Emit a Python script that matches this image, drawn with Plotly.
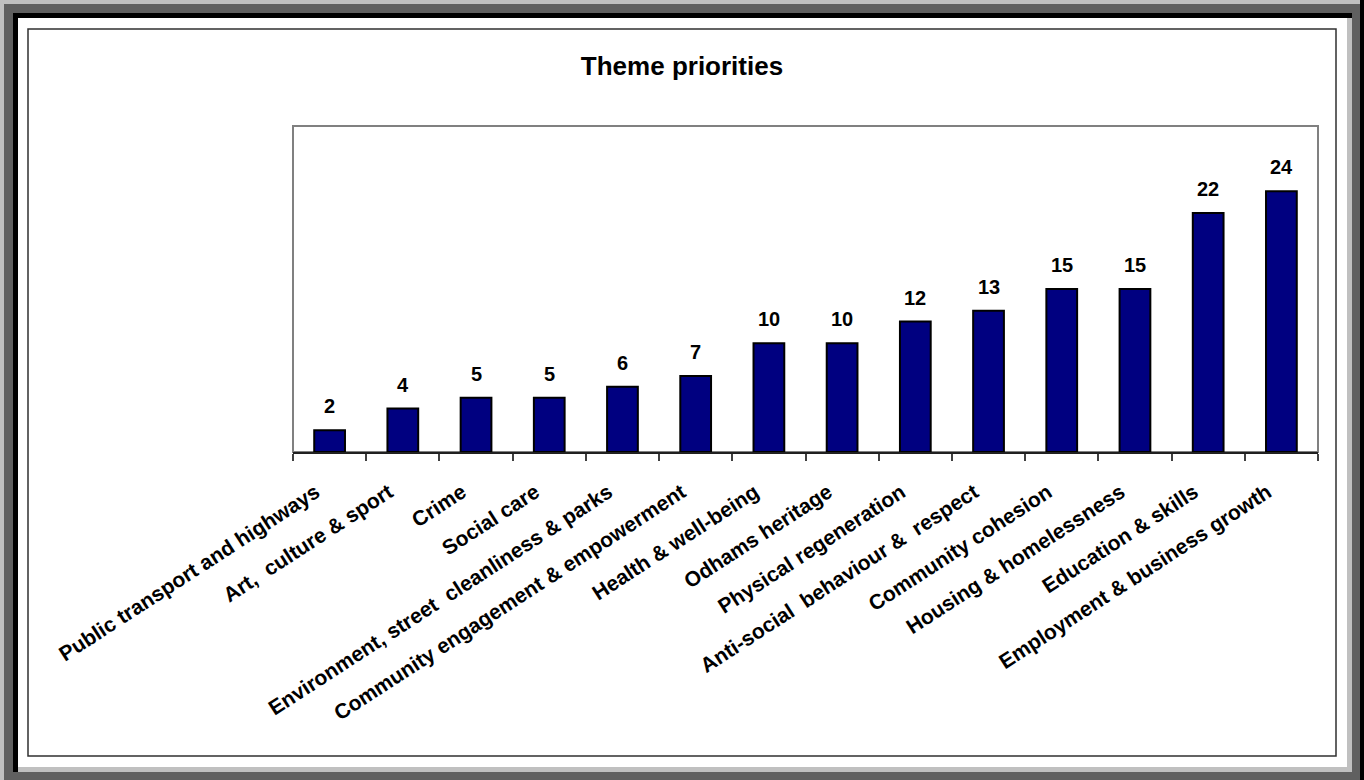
import plotly.graph_objects as go

categories = [
    "Public transport and highways",
    "Art,  culture & sport",
    "Crime",
    "Social care",
    "Environment, street  cleanliness & parks",
    "Community engagement & empowerment",
    "Health & well-being",
    "Odhams heritage",
    "Physical regeneration",
    "Anti-social  behaviour &  respect",
    "Community cohesion",
    "Housing & homelessness",
    "Education & skills",
    "Employment & business growth",
]
values = [2, 4, 5, 5, 6, 7, 10, 10, 12, 13, 15, 15, 22, 24]
title_text = "Theme priorities"

W, H = 1364, 780
L, R, T, B = 293, 1318, 126, 452  # plot area in pixels

def px(x):
    return (x - L) / (R - L)

def py(y):
    return (B - y) / (B - T)

def rect(x0, y0, x1, y1, fill, line_color=None, line_width=0):
    return dict(type="rect", xref="paper", yref="paper",
                x0=px(x0), x1=px(x1), y0=py(y1), y1=py(y0),
                fillcolor=fill, layer="below",
                line=dict(color=line_color or fill, width=line_width))

shapes = [
    rect(1360, 0, 1364, 780, "#000000"),
    rect(4, 4, 1360, 780, "#606060"),
    rect(13, 13, 1352, 772, "#000000"),
    rect(18, 18, 1352, 772, "#c0c0c0"),
    rect(18, 18, 1347, 767, "#ffffff"),
    rect(28, 29, 1336, 756, "#ffffff", "#303030", 1.5),
    dict(type="rect", xref="paper", yref="paper", x0=0, x1=1, y0=0, y1=1,
         fillcolor="rgba(0,0,0,0)", layer="below",
         line=dict(color="#808080", width=2)),
]

font_family = "Arial, Liberation Sans, sans-serif"

fig = go.Figure()
fig.add_trace(go.Bar(
    x=categories, y=values,
    marker=dict(color="#000080", line=dict(color="#000000", width=2)),
    hoverinfo="x+y",
))

annotations = [
    dict(x=c, y=v, xref="x", yref="y", text=str(v), showarrow=False,
         yanchor="bottom", yshift=11,
         font=dict(family=font_family, size=20, color="#000000", weight=700))
    for c, v in zip(categories, values)
]

fig.update_layout(
    width=W, height=H,
    margin=dict(l=L, r=W - R, t=T, b=H - B, pad=0),
    paper_bgcolor="#c0c0c0",
    plot_bgcolor="rgba(0,0,0,0)",
    showlegend=False,
    bargap=0.58,
    shapes=shapes,
    annotations=annotations,
    title=dict(text=title_text, x=682 / W, xanchor="center",
               y=1 - 66 / H, yanchor="middle",
               font=dict(family=font_family, size=26, color="#000000", weight=700)),
    xaxis=dict(
        type="category",
        showline=True, linecolor="#202020", linewidth=2,
        ticks="outside", tickson="boundaries", ticklen=7, tickwidth=1.5,
        tickcolor="#404040",
        tickangle=-33,
        ticklabelstandoff=18,
        ticklabelshift=-14,
        tickfont=dict(family=font_family, size=21, color="#000000", weight=700),
        showgrid=False, zeroline=False,
    ),
    yaxis=dict(
        range=[0, 30], showticklabels=False, showgrid=False,
        zeroline=False, showline=False, ticks="",
    ),
)

fig.write_html("out.html",
               config={"displayModeBar": False},
               post_script="document.body.style.margin='0';document.body.style.padding='0';")
